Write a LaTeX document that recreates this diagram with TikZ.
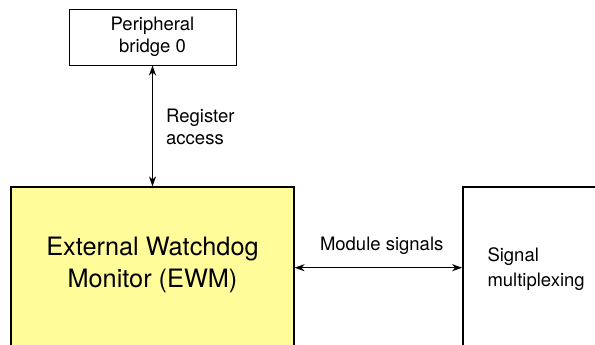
\documentclass[tikz,border=0pt]{standalone}
\usepackage{fontspec}
\setmainfont{TeX Gyre Heros}
\usetikzlibrary{arrows.meta}
\definecolor{ewmyellow}{RGB}{255,252,153}
\tikzstyle{block}=[draw, rectangle, inner sep=0pt]
\tikzstyle{signal}=[{Stealth[length=10pt,width=7pt,inset=3pt]}-{Stealth[length=10pt,width=7pt,inset=3pt]}, line width=1.3pt]
\tikzstyle{txt}=[font=\fontsize{18.5}{22.5}\selectfont, align=left, inner sep=0pt]
\tikzstyle{bigtxt}=[font=\fontsize{25.3}{32}\selectfont, align=center, inner sep=0pt]

\begin{document}
\begin{tikzpicture}[x=1pt,y=-1pt]
\useasboundingbox (0,0) rectangle (595,345);
\clip (0,0) rectangle (595,345);
% blocks
\node[block, line width=0.9pt, minimum width=167pt, minimum height=56pt, txt, align=center] (bridge) at (152.5,37) {Peripheral\\bridge 0};
\node[block, fill=ewmyellow, line width=1.1pt, minimum width=283pt, minimum height=220pt] (ewm) at (152.5,297) {};
\node[block, line width=1.7pt, minimum width=240pt, minimum height=220pt] (mux) at (583,297) {};
% labels
\node[bigtxt] (ewmlabel) at (152.5,265) {External Watchdog\\Monitor (EWM)};
\node[txt, anchor=west] (regacc) at (166,127) {Register\\access};
\node[txt, anchor=base] (modsig) at (381.7,250) {Module signals};
\node[txt, anchor=west, font=\fontsize{18.5}{25}\selectfont] (muxlabel) at (487.3,269) {Signal\\multiplexing};
% connectors
\coordinate (sigrow) at (0,267.7);
\draw[signal] (bridge.south) -- (ewm.north);
\draw[signal] (ewm.east |- sigrow) -- (mux.west |- sigrow);
\end{tikzpicture}
\end{document}
